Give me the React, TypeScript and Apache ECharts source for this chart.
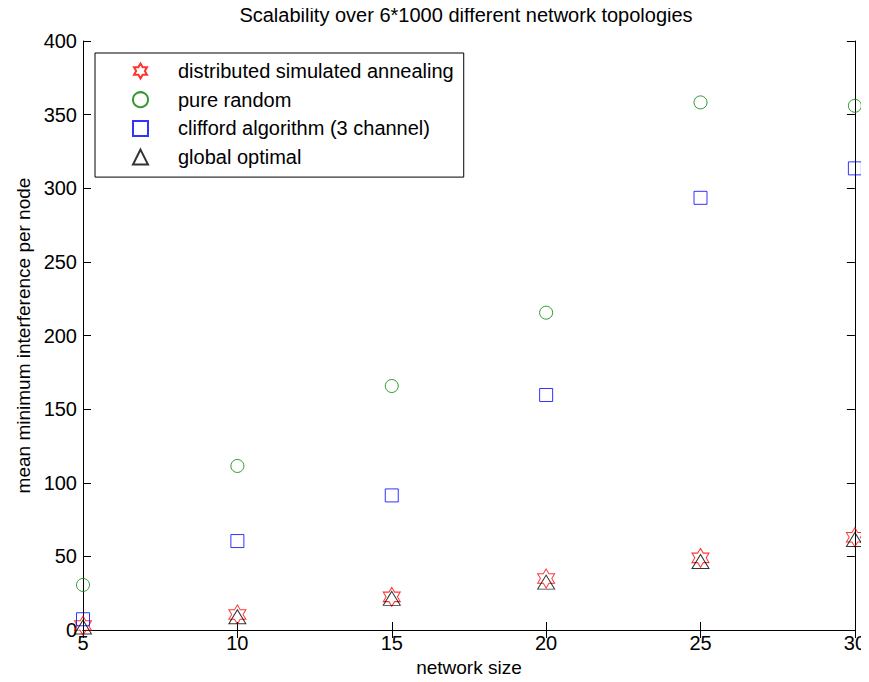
import React, { useEffect, useRef } from "react";
import * as echarts from "echarts";

const networkSizes = [5, 10, 15, 20, 25, 30];
const annealing = [3, 10.5, 22.5, 35, 49, 63];
const pureRandom = [30.6, 111.4, 165.7, 215.5, 358.3, 356];
const clifford = [7.3, 60.4, 91.4, 159.6, 293.5, 313.5];
const globalOptimal = [2, 9, 21.5, 32.5, 46.5, 61.5];
const seriesNames = [
  "distributed simulated annealing",
  "pure random",
  "clifford algorithm (3 channel)",
  "global optimal",
];
const titleText = "Scalability over 6*1000 different network topologies";
const xName = "network size";
const yName = "mean minimum interference per node";

const STAR6 =
  "path://M100,0 L128.87,50 L186.6,50 L157.7,100 L186.6,150 L128.87,150 L100,200 L71.13,150 L13.4,150 L42.3,100 L13.4,50 L71.13,50 Z";

const FONT = "Liberation Sans, Arial, Helvetica, sans-serif";

function pairs(vals: number[]) {
  return networkSizes.map((x, i) => [x, vals[i]]);
}

export default function App() {
  const ref = useRef<HTMLDivElement>(null);
  useEffect(() => {
    if (!ref.current) return;
    const chart = echarts.init(ref.current, undefined, { renderer: "svg" });
    const tickCommon = {
      show: true,
      inside: true,
      length: 8,
      lineStyle: { color: "#000", width: 1 },
    };
    const lineCommon = { show: true, lineStyle: { color: "#000", width: 1 } };
    const mk = (
      name: string,
      vals: number[],
      symbol: string,
      size: number | number[],
      color: string
    ) => ({
      name,
      type: "scatter",
      data: pairs(vals),
      symbol,
      symbolSize: size,
      itemStyle: { color: "transparent", borderColor: color, borderWidth: 1 },
      emphasis: { disabled: true },
      z: 3,
    });
    chart.setOption({
      animation: false,
      backgroundColor: "#fff",
      title: {
        text: titleText,
        left: 466,
        textAlign: "center",
        top: 5,
        padding: 0,
        textStyle: { fontFamily: FONT, fontSize: 20, fontWeight: "normal", color: "#000" },
      },
      grid: { left: 83, right: 10, top: 41, bottom: 52, containLabel: false },
      legend: {
        orient: "vertical",
        left: 95,
        top: 53,
        padding: [8, 10, 10, 37],
        itemGap: 8.7,
        itemWidth: 15,
        itemHeight: 15,
        borderColor: "#000",
        borderWidth: 1,
        backgroundColor: "#fff",
        selectedMode: false,
        textStyle: {
          fontFamily: FONT,
          fontSize: 20,
          color: "#000",
          padding: [0, 0, 0, 25],
        },
        data: seriesNames,
      },
      xAxis: [
        {
          type: "value",
          min: 5,
          max: 30,
          interval: 5,
          position: "bottom",
          name: xName,
          nameLocation: "middle",
          nameGap: 28,
          nameTextStyle: { fontFamily: FONT, fontSize: 19, color: "#000" },
          axisLine: lineCommon,
          axisTick: tickCommon,
          axisLabel: { fontFamily: FONT, fontSize: 20, color: "#000", margin: 3 },
          splitLine: { show: false },
        },
        {
          type: "value",
          min: 5,
          max: 30,
          interval: 5,
          position: "top",
          axisLine: lineCommon,
          axisTick: tickCommon,
          axisLabel: { show: false },
          splitLine: { show: false },
        },
      ],
      yAxis: [
        {
          type: "value",
          min: 0,
          max: 400,
          interval: 50,
          position: "left",
          name: yName,
          nameLocation: "middle",
          nameGap: 46,
          nameTextStyle: { fontFamily: FONT, fontSize: 19, color: "#000" },
          axisLine: lineCommon,
          axisTick: tickCommon,
          axisLabel: { fontFamily: FONT, fontSize: 20, color: "#000", margin: 6 },
          splitLine: { show: false },
        },
        {
          type: "value",
          min: 0,
          max: 400,
          interval: 50,
          position: "right",
          axisLine: lineCommon,
          axisTick: tickCommon,
          axisLabel: { show: false },
          splitLine: { show: false },
        },
      ],
      series: [
        mk(seriesNames[0], annealing, STAR6, [17, 19], "#ff0000"),
        mk(seriesNames[1], pureRandom, "circle", 13, "#008000"),
        mk(seriesNames[2], clifford, "rect", 13, "#0000ff"),
        mk(seriesNames[3], globalOptimal, "triangle", [17, 14], "#000000"),
      ],
    });
    return () => chart.dispose();
  }, []);
  return <div ref={ref} style={{ width: 869, height: 682, margin: -8 }} />;
}
